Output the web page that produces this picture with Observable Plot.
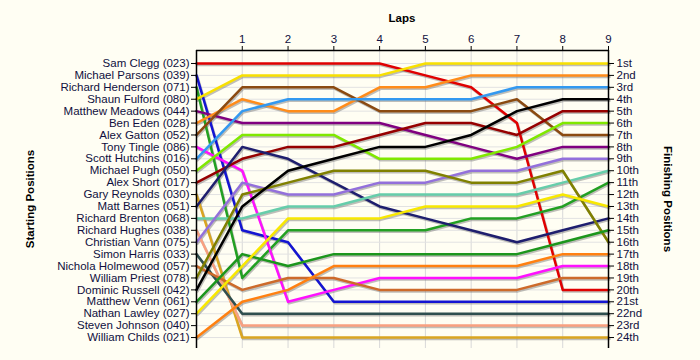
<!DOCTYPE html>
<html><head><meta charset="utf-8">
<script src="https://cdn.jsdelivr.net/npm/d3@7"></script>
<script src="https://cdn.jsdelivr.net/npm/@observablehq/plot@0.6"></script>
<style>
html,body{margin:0;padding:0;background:#fffef3;}
#chart{width:700px;height:360px;}
</style>
</head><body><div id="chart"></div>
<script>
const laps = [0, 1, 2, 3, 4, 5, 6, 7, 8, 9];
const lapTicks = [1, 2, 3, 4, 5, 6, 7, 8, 9];
const drivers = [
  "Sam Clegg (023)", "Michael Parsons (039)", "Richard Henderson (071)", "Shaun Fulford (080)",
  "Matthew Meadows (044)", "Ben Eden (028)", "Alex Gatton (052)", "Tony Tingle (086)",
  "Scott Hutchins (016)", "Michael Pugh (050)", "Alex Short (017)", "Gary Reynolds (030)",
  "Matt Barnes (051)", "Richard Brenton (068)", "Richard Hughes (038)", "Christian Vann (075)",
  "Simon Harris (033)", "Nichola Holmewood (057)", "William Priest (078)", "Dominic Russell (042)",
  "Matthew Venn (061)", "Nathan Lawley (027)", "Steven Johnson (040)", "William Childs (021)"
];
const finishLabels = ["1st","2nd","3rd","4th","5th","6th","7th","8th","9th","10th","11th","12th",
  "13th","14th","15th","16th","17th","18th","19th","20th","21st","22nd","23rd","24th"];
// positions per lap (lap 0 = start) for each driver, in the order of `drivers`
const positions = [
  [1, 1, 1, 1, 1, 2, 3, 6, 20, 20],
  [2, 15, 16, 21, 21, 21, 21, 21, 21, 21],
  [3, 19, 15, 15, 15, 15, 14, 14, 13, 11],
  [4, 2, 2, 2, 2, 1, 1, 1, 1, 1],
  [5, 6, 6, 6, 6, 7, 8, 9, 8, 8],
  [6, 4, 5, 5, 3, 3, 2, 2, 2, 2],
  [7, 3, 3, 3, 5, 5, 5, 4, 7, 7],
  [8, 10, 21, 20, 19, 19, 19, 19, 18, 18],
  [9, 5, 4, 4, 4, 4, 4, 3, 3, 3],
  [10, 7, 7, 7, 9, 9, 9, 8, 6, 6],
  [11, 9, 8, 8, 7, 6, 6, 7, 5, 5],
  [12, 24, 24, 24, 24, 24, 24, 24, 24, 24],
  [13, 8, 9, 11, 13, 14, 15, 16, 15, 14],
  [14, 14, 13, 13, 12, 12, 12, 12, 11, 10],
  [15, 23, 23, 23, 23, 23, 23, 23, 23, 23],
  [16, 11, 12, 12, 11, 11, 10, 10, 9, 9],
  [17, 22, 22, 22, 22, 22, 22, 22, 22, 22],
  [18, 20, 19, 19, 20, 20, 20, 20, 19, 19],
  [19, 12, 11, 10, 10, 10, 11, 11, 10, 16],
  [20, 13, 10, 9, 8, 8, 7, 5, 4, 4],
  [21, 17, 18, 17, 17, 17, 17, 17, 16, 15],
  [22, 18, 14, 14, 14, 13, 13, 13, 12, 13],
  null,
  [24, 21, 20, 18, 18, 18, 18, 18, 17, 17]
];
const colors = [
  "#e00000", "#1414d2", "#22a022", "#f8e000", "#800080", "#ff8c1a", "#8b4a10", "#ff10ff",
  "#3399f0", "#80e800", "#960000", "#daa520", "#1e1e6e", "#66cdaa", "#f9a080", "#9370db",
  "#2f4f4f", "#cd6a2a", "#808000", "#000000", "#1c961c", "#f8e800", "#888888", "#ff8010"
];

const rows = [];
positions.forEach((ps, i) => {
  if (!ps) return;
  ps.forEach((p, j) => rows.push({driver: drivers[i], idx: i, lap: laps[j], pos: p}));
});

const yDomain = [-0.09, 24.92];
const posTicks = d3.range(1, 25);
const textColor = "#101040";

const chart = Plot.plot({
  width: 700,
  height: 360,
  marginLeft: 196,
  marginRight: 92,
  marginTop: 50,
  marginBottom: 12,
  style: {background: "transparent", fontFamily: "'Liberation Sans', Arial, sans-serif", fontSize: "11px"},
  x: {domain: [0, 9], axis: null},
  y: {domain: yDomain, reverse: true, axis: null},
  color: {type: "identity"},
  marks: [
    Plot.gridX(laps, {stroke: "#d8d8d8", strokeOpacity: 1}),
    Plot.gridY(posTicks, {stroke: "#e2e2e2", strokeOpacity: 1}),
    Plot.line(rows, {x: "lap", y: "pos", z: "driver", stroke: "#707070", strokeOpacity: 0.45, strokeWidth: 2.5, dx: 1, dy: 1.5}),
    Plot.line(rows, {x: "lap", y: "pos", z: "driver", stroke: d => colors[d.idx], strokeWidth: 2.5}),
    Plot.ruleX([0, 9], {stroke: "black", strokeWidth: 1.5}),
    Plot.ruleY([yDomain[0]], {stroke: "black", strokeWidth: 1.5}),
    Plot.axisY(posTicks, {anchor: "left", tickFormat: p => drivers[p - 1], tickSize: 5, tickPadding: 2, fill: textColor, stroke: "black", label: null, fontSize: 11.5}),
    Plot.axisY(posTicks, {anchor: "right", tickFormat: p => finishLabels[p - 1], tickSize: 5, tickPadding: 3, fill: textColor, stroke: "black", label: null, fontSize: 11.5}),
    Plot.axisX(lapTicks, {anchor: "top", tickFormat: d => String(d), tickSize: 5, tickPadding: 3, fill: textColor, stroke: "black", label: null, fontSize: 11.5})
  ]
});

const svg = d3.select(chart);
svg.append("text").attr("x", 402).attr("y", 22).attr("text-anchor", "middle")
  .attr("font-weight", "bold").attr("font-size", 11.5).attr("fill", "black").text("Laps");
svg.append("text").attr("transform", "translate(34,199) rotate(-90)").attr("text-anchor", "middle")
  .attr("font-weight", "bold").attr("font-size", 11.5).attr("fill", "black").text("Starting Positions");
svg.append("text").attr("transform", "translate(664,199) rotate(90)").attr("text-anchor", "middle")
  .attr("font-weight", "bold").attr("font-size", 11.5).attr("fill", "black").text("Finishing Positions");

document.getElementById("chart").appendChild(chart);
</script>
</body></html>
